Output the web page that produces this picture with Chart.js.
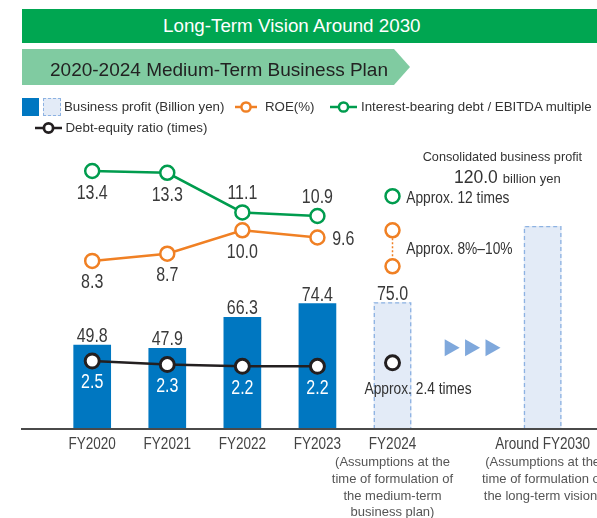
<!DOCTYPE html>
<html><head><meta charset="utf-8">
<script src="https://cdn.jsdelivr.net/npm/chart.js@4.4.1/dist/chart.umd.min.js"></script>
<style>
html,body{margin:0;padding:0;background:#fff;}
#wrap{position:relative;width:597px;height:518px;overflow:hidden;font-family:"Liberation Sans",Arial,sans-serif;}
#c{position:absolute;left:0;top:0;}
.abs{position:absolute;white-space:nowrap;}
.b1{left:22px;top:9px;width:575px;height:34px;background:#00A651;}
.b1t{left:163px;top:26px;transform:translateY(-50%);color:#fff;font-size:18.8px;line-height:1;}
.b2{left:22px;top:49px;width:388px;height:36px;background:#80CBA1;clip-path:polygon(0 0,372px 0,388px 50%,372px 100%,0 100%);}
.b2t{left:50px;top:68.5px;transform:translateY(-50%);color:#222;font-size:19px;line-height:1;}
.lt{transform:translateY(-50%);font-size:13.3px;line-height:1;color:#333;}
</style></head>
<body><div id="wrap">
<canvas id="c" width="597" height="518"></canvas>
<div class="abs b1"></div>
<div class="abs b1t" id="t1">Long-Term Vision Around 2030</div>
<div class="abs b2"></div>
<div class="abs b2t" id="t2">2020-2024 Medium-Term Business Plan</div>

<div class="abs" style="left:22px;top:98px;width:17px;height:18px;background:#0077C1"></div>
<div class="abs" style="left:43px;top:98px;width:16px;height:16px;border:1px dashed #8DB2E2;background:#E3EBF7"></div>
<div class="abs lt" style="left:64px;top:107px">Business profit (Billion yen)</div>
<svg class="abs" style="left:235px;top:100px" width="22" height="14"><line x1="0" y1="7" x2="22" y2="7" stroke="#F08024" stroke-width="2.5"/><circle cx="11" cy="7" r="4.6" fill="#fff" stroke="#F08024" stroke-width="2.5"/></svg>
<div class="abs lt" style="left:265px;top:107px">ROE(%)</div>
<svg class="abs" style="left:330px;top:100px" width="27" height="14"><line x1="0" y1="7" x2="27" y2="7" stroke="#009C4E" stroke-width="2.5"/><circle cx="13.5" cy="7" r="4.6" fill="#fff" stroke="#009C4E" stroke-width="2.5"/></svg>
<div class="abs lt" style="left:361px;top:107px">Interest-bearing debt / EBITDA multiple</div>
<svg class="abs" style="left:35px;top:121px" width="27" height="14"><line x1="0" y1="7" x2="27" y2="7" stroke="#231F20" stroke-width="2.5"/><circle cx="13.5" cy="7" r="4.6" fill="#fff" stroke="#231F20" stroke-width="2.8"/></svg>
<div class="abs lt" style="left:65.5px;top:128.3px">Debt-equity ratio (times)</div>

<div class="abs" style="left:422.7px;top:157.3px;transform:translateY(-50%);font-size:12.7px;line-height:1;color:#333">Consolidated business profit</div>
<div class="abs" style="left:454px;top:178px;transform:translateY(-50%);line-height:1;color:#333"><span id="bigv" style="font-size:17.5px"></span><span style="font-size:13px;margin-left:5px">billion yen</span></div>
</div>
<script>
// ---- data ----
const categories = ['FY2020','FY2021','FY2022','FY2023','FY2024','','Around FY2030'];
const subLabels = [[],[],[],[],['(Assumptions at the','time of formulation of','the medium-term','business plan)'],[],['(Assumptions at the','time of formulation of','the long-term vision)']];
const profitActual = [49.8,47.9,66.3,74.4,null,null,null];
const profitPlan   = [null,null,null,null,75.0,null,120.0];
const roe          = [8.3,8.7,10.0,9.6,null,null,null];
const roeTarget    = [10,8];          // FY2024 range (upper, lower)
const debtEbitda   = [13.4,13.3,11.1,10.9,null,null,null];
const debtEbitdaTarget = [12];        // FY2024
const deRatio      = [2.5,2.3,2.2,2.2,null,null,null];
const deRatioTarget = [2.4];          // FY2024
const targetCat = 'FY2024';

// label placement (style, not data)
const debtLabelPos = ['below','below','above','above'];
const roeLabelPos  = ['below','below','below','right'];

const BLUE='#0077C1', PLAN_FILL='#E3EBF7', PLAN_EDGE='#8DB2E2', GREEN='#009C4E', ORANGE='#F08024', BLACK='#231F20';
const REG='"Liberation Sans",Arial,sans-serif';
const SQ=0.82; // condensed look

document.getElementById('bigv').textContent = profitPlan[6].toFixed(1);

function txt(ctx,s,x,y,font,color,align,base,sx){
  ctx.save();
  ctx.font=font; ctx.fillStyle=color; ctx.textAlign=align||'center'; ctx.textBaseline=base||'middle';
  ctx.translate(x,y); ctx.scale(sx||1,1);
  ctx.fillText(s,0,0);
  ctx.restore();
}

const decor = {
  id:'decor',
  afterDatasetDraw(chart,args){
    if(args.index!==1) return;
    const ctx=chart.ctx, meta=chart.getDatasetMeta(1);
    ctx.save();
    ctx.setLineDash([4,3]); ctx.lineWidth=1.3; ctx.strokeStyle=PLAN_EDGE;
    meta.data.forEach((el,i)=>{
      if(profitPlan[i]==null) return;
      const p=el.getProps(['x','y','width','base'],true);
      const l=p.x-p.width/2+0.65, r=p.x+p.width/2-0.65, t=p.y+0.65;
      ctx.beginPath(); ctx.moveTo(l,p.base); ctx.lineTo(l,t); ctx.lineTo(r,t); ctx.lineTo(r,p.base); ctx.stroke();
    });
    ctx.restore();
  },
  afterDraw(chart){
    const ctx=chart.ctx, xs=chart.scales.x, area=chart.chartArea;
    ctx.save();
    // baseline
    ctx.strokeStyle='#4a4a4a'; ctx.lineWidth=2;
    ctx.beginPath(); ctx.moveTo(21,area.bottom); ctx.lineTo(chart.width,area.bottom); ctx.stroke();
    // arrows
    const cx=xs.getPixelForValue(5)+5, cy=347.7;
    ctx.fillStyle='#7FA8DC';
    [-20.4,0,20.4].forEach(d=>{
      ctx.beginPath(); ctx.moveTo(cx+d-7.5,cy-8.5); ctx.lineTo(cx+d+7.5,cy); ctx.lineTo(cx+d-7.5,cy+8.5); ctx.closePath(); ctx.fill();
    });
    const VF='19.5px '+REG, VC='#3a3a3a';
    // bar labels
    chart.getDatasetMeta(0).data.forEach((el,i)=>{
      if(profitActual[i]==null) return;
      txt(ctx,profitActual[i].toFixed(1),el.x,el.y-2.5,VF,VC,'center','alphabetic',SQ);
    });
    chart.getDatasetMeta(1).data.forEach((el,i)=>{
      if(profitPlan[i]==null || i===6) return;
      txt(ctx,profitPlan[i].toFixed(1),el.x,el.y-2.5,VF,VC,'center','alphabetic',SQ);
    });
    // debt/EBITDA labels
    chart.getDatasetMeta(2).data.forEach((el,i)=>{
      if(debtEbitda[i]==null) return;
      const dy = debtLabelPos[i]==='below'?23:-18.5;
      txt(ctx,debtEbitda[i].toFixed(1),el.x,el.y+dy,VF,VC,'center','middle',SQ);
    });
    // ROE labels
    chart.getDatasetMeta(4).data.forEach((el,i)=>{
      if(roe[i]==null) return;
      if(roeLabelPos[i]==='right') txt(ctx,roe[i].toFixed(1),el.x+14.7,el.y+1.7,VF,VC,'left','middle',SQ);
      else txt(ctx,roe[i].toFixed(1),el.x,el.y+22,VF,VC,'center','middle',SQ);
    });
    // D/E labels (white, inside bars)
    chart.getDatasetMeta(6).data.forEach((el,i)=>{
      if(deRatio[i]==null) return;
      txt(ctx,deRatio[i].toFixed(1),el.x,el.y+22,VF,'#ffffff','center','middle',SQ);
    });
    // target texts
    const AF='16.8px '+REG, AC='#333';
    const g=chart.getDatasetMeta(3).data[0];
    txt(ctx,'Approx. '+debtEbitdaTarget[0]+' times',g.x+13.7,g.y+2.5,AF,AC,'left','middle',SQ);
    const o=chart.getDatasetMeta(5).data;
    txt(ctx,'Approx. '+roeTarget[1]+'%\u2013'+roeTarget[0]+'%',o[0].x+13.7,(o[0].y+o[1].y)/2+1.3,AF,AC,'left','middle',SQ);
    const k=chart.getDatasetMeta(7).data[0];
    txt(ctx,'Approx. '+deRatioTarget[0]+' times',k.x-28,k.y+26.7,AF,AC,'left','middle',SQ);
    // x labels
    categories.forEach((c,i)=>{
      const x=xs.getPixelForValue(i);
      if(c) txt(ctx,c,x,444.5,'16.5px '+REG,'#444','center','middle',SQ);
      subLabels[i].forEach((s,j)=>txt(ctx,s,x,462.7+j*16.7,'13px '+REG,'#555'));
    });
    ctx.restore();
  }
};

const ptCommon = {type:'line', pointRadius:7, pointHoverRadius:7, pointBackgroundColor:'#fff', pointBorderWidth:2.5, borderWidth:2.5, order:1, spanGaps:false};

new Chart(document.getElementById('c'),{
  type:'bar',
  data:{
    labels:categories,
    datasets:[
      {label:'Business profit (actual)',data:profitActual,backgroundColor:BLUE,yAxisID:'yBar',order:10,barPercentage:0.502,categoryPercentage:1,grouped:false,borderWidth:0},
      {label:'Business profit (plan)',data:profitPlan,backgroundColor:PLAN_FILL,yAxisID:'yBar',order:9,barPercentage:0.502,categoryPercentage:1,grouped:false,borderWidth:0},
      Object.assign({},ptCommon,{label:'Interest-bearing debt / EBITDA multiple',data:debtEbitda,borderColor:GREEN,pointBorderColor:GREEN,yAxisID:'yDebt'}),
      Object.assign({},ptCommon,{label:'D/EBITDA target',data:debtEbitdaTarget.map(v=>({x:targetCat,y:v})),borderColor:GREEN,pointBorderColor:GREEN,showLine:false,yAxisID:'yDebt'}),
      Object.assign({},ptCommon,{label:'ROE(%)',data:roe,borderColor:ORANGE,pointBorderColor:ORANGE,yAxisID:'yRoe'}),
      Object.assign({},ptCommon,{label:'ROE target',data:roeTarget.map(v=>({x:targetCat,y:v})),borderColor:ORANGE,pointBorderColor:ORANGE,borderWidth:1.5,borderDash:[2,2],showLine:true,yAxisID:'yRoe'}),
      Object.assign({},ptCommon,{label:'Debt-equity ratio (times)',data:deRatio,borderColor:BLACK,pointBorderColor:BLACK,pointBorderWidth:3,yAxisID:'yDE'}),
      Object.assign({},ptCommon,{label:'D/E target',data:deRatioTarget.map(v=>({x:targetCat,y:v})),borderColor:BLACK,pointBorderColor:BLACK,pointBorderWidth:3,showLine:false,yAxisID:'yDE'})
    ]
  },
  options:{
    responsive:false, devicePixelRatio:1, animation:false,
    layout:{padding:{left:54.66,right:16.8,top:140,bottom:89}},
    plugins:{legend:{display:false},tooltip:{enabled:false}},
    scales:{
      x:{type:'category',display:false,offset:true,grid:{display:false}},
      yBar:{display:false,min:0,max:170.9},
      yDebt:{display:false,min:-0.933,max:15.122},
      yRoe:{display:false,min:-1.039,max:15.017},
      yDE:{display:false,min:-1.342,max:14.986}
    }
  },
  plugins:[decor]
});
</script>
</body></html>
